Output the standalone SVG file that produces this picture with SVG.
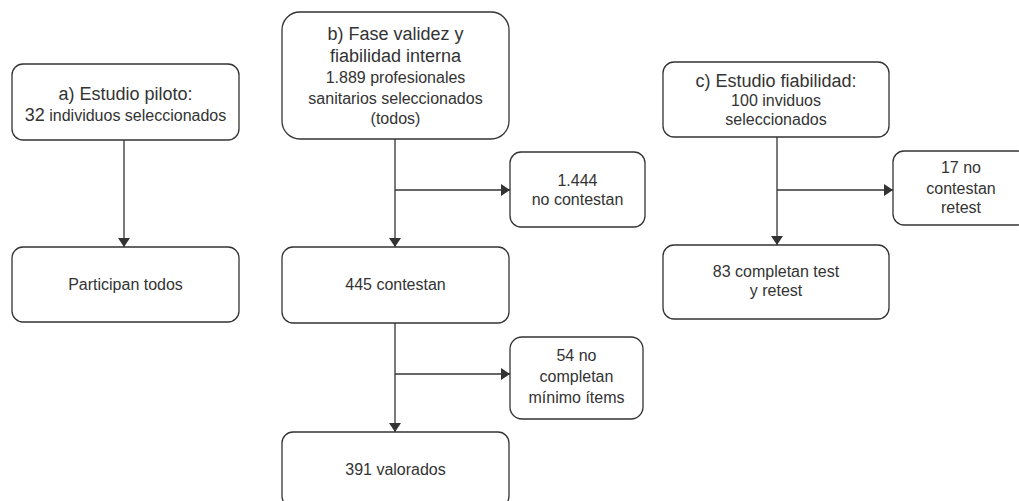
<svg xmlns="http://www.w3.org/2000/svg" width="1019" height="501" viewBox="0 0 1019 501">
<style>
.box{fill:#fff;stroke:#333;stroke-width:1.3}
.t{font-family:"Liberation Sans",Arial,sans-serif;font-size:16px;fill:#333;text-anchor:middle}
.h{font-size:18px}
.c{fill:none;stroke:#333;stroke-width:1.3}
</style>
<defs>
<marker id="arr" viewBox="0 0 9 12" refX="9" refY="6" markerWidth="9" markerHeight="12" markerUnits="userSpaceOnUse" orient="auto">
<path d="M0,0 L9,6 L0,12 z" fill="#333"/>
</marker>
</defs>
<rect width="1019" height="501" fill="#fff"/>
<g id="connectors">
<path class="c" d="M124,140 V247" marker-end="url(#arr)"/>
<path class="c" d="M395,139 V247" marker-end="url(#arr)"/>
<path class="c" d="M395,190 H510" marker-end="url(#arr)"/>
<path class="c" d="M395,323 V432" marker-end="url(#arr)"/>
<path class="c" d="M395,374 H510" marker-end="url(#arr)"/>
<path class="c" d="M777,137 V245" marker-end="url(#arr)"/>
<path class="c" d="M777,190 H893" marker-end="url(#arr)"/>
</g>
<g id="node-a">
<rect class="box" x="12" y="64" width="227" height="76" rx="11"/>
<text class="t h" x="125.5" y="100">a) Estudio piloto:</text>
<text class="t" x="125.5" y="121"><tspan class="h">32</tspan> individuos seleccionados</text>
</g>
<g id="node-a2">
<rect class="box" x="12" y="247" width="227" height="75" rx="11"/>
<text class="t" x="125.5" y="290">Participan todos</text>
</g>
<g id="node-b">
<rect class="box" x="282" y="12" width="227" height="127" rx="18"/>
<text class="t h" x="395.5" y="40">b) Fase validez y</text>
<text class="t h" x="395.5" y="62">fiabilidad interna</text>
<text class="t" x="395.5" y="83">1.889 profesionales</text>
<text class="t" x="395.5" y="104">sanitarios seleccionados</text>
<text class="t" x="395.5" y="124">(todos)</text>
</g>
<g id="node-b1">
<rect class="box" x="510" y="152" width="135" height="75" rx="11"/>
<text class="t" x="577.5" y="186">1.444</text>
<text class="t" x="577.5" y="205">no contestan</text>
</g>
<g id="node-b2">
<rect class="box" x="282" y="247" width="227" height="76" rx="11"/>
<text class="t" x="395.5" y="290">445 contestan</text>
</g>
<g id="node-b3">
<rect class="box" x="510" y="337" width="133" height="82" rx="12"/>
<text class="t" x="576.5" y="361">54 no</text>
<text class="t" x="576.5" y="382">completan</text>
<text class="t" x="576.5" y="403">mínimo ítems</text>
</g>
<g id="node-b4">
<rect class="box" x="282" y="432" width="227" height="75" rx="11"/>
<text class="t" x="395.5" y="475">391 valorados</text>
</g>
<g id="node-c">
<rect class="box" x="663" y="62" width="226" height="75" rx="11"/>
<text class="t h" x="776" y="87">c) Estudio fiabilidad:</text>
<text class="t" x="776" y="106">100 inviduos</text>
<text class="t" x="776" y="125">seleccionados</text>
</g>
<g id="node-c1">
<rect class="box" x="893" y="151" width="136" height="74" rx="11"/>
<text class="t" x="961" y="173">17 no</text>
<text class="t" x="961" y="194">contestan</text>
<text class="t" x="961" y="213">retest</text>
</g>
<g id="node-c2">
<rect class="box" x="663" y="245" width="226" height="74" rx="11"/>
<text class="t" x="776" y="277">83 completan test</text>
<text class="t" x="776" y="296">y retest</text>
</g>
</svg>
